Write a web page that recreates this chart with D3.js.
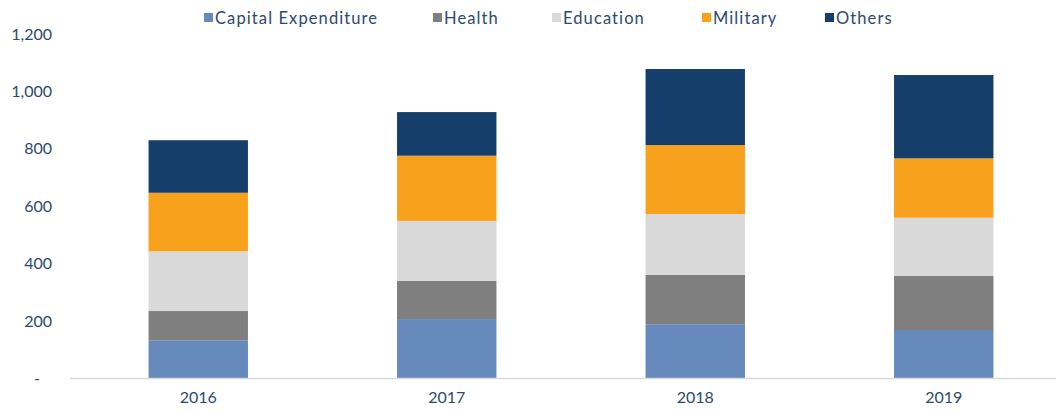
<!DOCTYPE html>
<html>
<head>
<meta charset="utf-8">
<script src="https://cdn.jsdelivr.net/npm/d3@7"></script>
<style>
  body { margin: 0; background: #fff; }
  text { font-family: "Lato", "DejaVu Sans", sans-serif; fill: #2b4a6f; }
</style>
</head>
<body>
<script>
// Chart data
var years = ["2016", "2017", "2018", "2019"];
var series = ["Capital Expenditure", "Health", "Education", "Military", "Others"];
var capex = [133, 207, 189, 169];
var health = [102, 133, 172, 188];
var education = [208, 209, 212, 203];
var military = [204, 227, 240, 207];
var others = [183, 152, 265, 290];
var yTicks = [0, 200, 400, 600, 800, 1000, 1200];

var colors = ["#668abc", "#7f7f7f", "#d9d9d9", "#f7a11c", "#153e6a"];

var svgWidth = 1056;
var svgHeight = 412;
var margin = { top: 34, right: -12, bottom: 34, left: 74 };
var width = svgWidth - margin.left - margin.right;
var height = svgHeight - margin.top - margin.bottom;

var svg = d3.select("body")
  .append("svg")
  .attr("width", svgWidth)
  .attr("height", svgHeight);

var chartGroup = svg.append("g")
  .attr("transform", `translate(${margin.left}, ${margin.top})`);

// build rows for the stack
var rows = years.map(function(y, i) {
  return {
    year: y,
    "Capital Expenditure": capex[i],
    "Health": health[i],
    "Education": education[i],
    "Military": military[i],
    "Others": others[i]
  };
});

var stacked = d3.stack().keys(series)(rows);

var xBand = d3.scaleBand()
  .domain(years)
  .range([0, width])
  .paddingInner(0.6)
  .paddingOuter(0.3);

var yScale = d3.scaleLinear()
  .domain([0, 1200])
  .range([height + 0.5, 0]);

var color = d3.scaleOrdinal().domain(series).range(colors);

// y axis (labels only)
var leftAxis = d3.axisLeft(yScale)
  .tickValues(yTicks)
  .tickSize(0)
  .tickPadding(22)
  .tickFormat(function(d) { return d === 0 ? "-" : d3.format(",")(d); });

var yAxisG = chartGroup.append("g").call(leftAxis);
yAxisG.select(".domain").remove();
yAxisG.selectAll("text")
  .style("font-size", "16px")
  .attr("dx", function(d) { return d === 0 ? "-12" : "0"; });

// bars
chartGroup.selectAll(".layer")
  .data(stacked)
  .enter()
  .append("g")
    .attr("class", "layer")
    .attr("fill", d => color(d.key))
  .selectAll("rect")
  .data(d => d)
  .enter()
  .append("rect")
    .attr("x", d => xBand(d.data.year))
    .attr("y", d => yScale(d[1]))
    .attr("width", xBand.bandwidth())
    .attr("height", d => yScale(d[0]) - yScale(d[1]));

// x axis
var bottomAxis = d3.axisBottom(xBand).tickSize(0).tickPadding(14);
var xAxisG = chartGroup.append("g")
  .attr("transform", `translate(0, ${height})`)
  .call(bottomAxis);
xAxisG.select(".domain").remove();
xAxisG.selectAll("text").style("font-size", "16px");

chartGroup.append("line")
  .attr("x1", -4)
  .attr("x2", width)
  .attr("y1", height + 0.5)
  .attr("y2", height + 0.5)
  .attr("stroke", "#d9d9d9")
  .attr("stroke-width", 1.5);

// legend
var legendX = [204, 433, 552, 702, 825];
var legend = svg.append("g");
series.forEach(function(s, i) {
  legend.append("rect")
    .attr("x", legendX[i])
    .attr("y", 13)
    .attr("width", 9)
    .attr("height", 9)
    .attr("fill", colors[i]);
  legend.append("text")
    .attr("x", legendX[i] + 11)
    .attr("y", 24)
    .style("font-size", "16.5px")
    .style("letter-spacing", "1.1px")
    .text(s);
});
</script>
</body>
</html>
